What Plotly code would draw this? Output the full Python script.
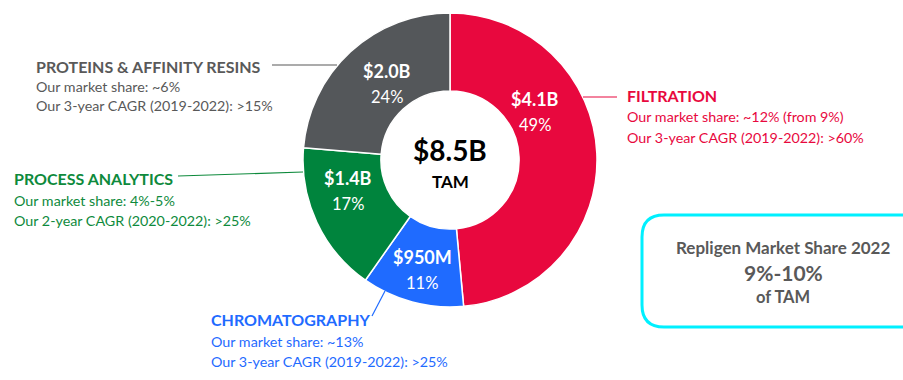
import plotly.graph_objects as go

# ---------------- data ----------------
segments = ["FILTRATION", "CHROMATOGRAPHY", "PROCESS ANALYTICS", "PROTEINS & AFFINITY RESINS"]
market_size_b = [4.1, 0.95, 1.4, 2.0]
size_labels = ["$4.1B", "$950M", "$1.4B", "$2.0B"]
share_pct = [49, 11, 17, 24]
market_share_lines = [
    "Our market share: ~12% (from 9%)",
    "Our market share: ~13%",
    "Our market share: 4%-5%",
    "Our market share: ~6%",
]
cagr_lines = [
    "Our 3-year CAGR (2019-2022): >60%",
    "Our 3-year CAGR (2019-2022): >25%",
    "Our 2-year CAGR (2020-2022): >25%",
    "Our 3-year CAGR (2019-2022): >15%",
]
total_label = "$8.5B"
total_sub = "TAM"
box_title = "Repligen Market Share 2022"
box_value = "9%-10%"
box_sub = "of TAM"

# ---------------- styles / layout ----------------
W, H = 903, 380
FONT = "Lato, 'Open Sans', sans-serif"
slice_colors = ["#E8083E", "#1F6BFF", "#00843D", "#54575A"]
text_colors = ["#E8083E", "#1F6BFF", "#0E8A3C", "#595959"]
grey = "#595959"

# slice label centres (px) for value line; percent line below
slice_label_pos = [(535, 99), (422, 257), (348, 178), (387, 71)]
# category title positions (px, left anchored)
title_pos = [(625, 95), (209, 319), (12, 178), (34, 66)]
sub_offsets = [(22, 42), (22, 42), (22, 42), (21, 40)]
leader_lines = [
    ((583, 97), (617, 97)),
    ((385, 291), (372, 316)),
    ((178, 176), (303, 172)),
    ((272, 65), (337, 65)),
]


def px(x):
    return x / W


def py(y):
    return 1 - y / H


fig = go.Figure()
fig.add_trace(go.Pie(
    labels=segments,
    values=market_size_b,
    sort=False,
    direction="clockwise",
    rotation=0,
    hole=0.47,
    marker=dict(colors=slice_colors, line=dict(color="white", width=1.5)),
    textinfo="none",
    hoverinfo="skip",
    showlegend=False,
    domain=dict(x=[px(303), px(597)], y=[py(307), py(13)]),
))

annotations = []
shapes = []

for i in range(len(segments)):
    sx, sy = slice_label_pos[i]
    annotations.append(dict(x=px(sx), y=py(sy), text=f"<b>{size_labels[i]}</b>",
                            font=dict(family=FONT, size=18, color="white"),
                            showarrow=False, xanchor="center", yanchor="middle"))
    annotations.append(dict(x=px(sx), y=py(sy + 26), text=f"{share_pct[i]}%",
                            font=dict(family=FONT, size=16.5, color="white"),
                            showarrow=False, xanchor="center", yanchor="middle"))
    tx, ty = title_pos[i]
    annotations.append(dict(x=px(tx), y=py(ty), text=f"<b>{segments[i]}</b>",
                            font=dict(family=FONT, size=16, color=text_colors[i]),
                            showarrow=False, xanchor="left", yanchor="middle"))
    o1, o2 = sub_offsets[i]
    annotations.append(dict(x=px(tx), y=py(ty + o1), text=market_share_lines[i],
                            font=dict(family=FONT, size=14.3, color=text_colors[i]),
                            showarrow=False, xanchor="left", yanchor="middle"))
    annotations.append(dict(x=px(tx), y=py(ty + o2), text=cagr_lines[i],
                            font=dict(family=FONT, size=14.3, color=text_colors[i]),
                            showarrow=False, xanchor="left", yanchor="middle"))
    (x0, y0), (x1, y1) = leader_lines[i]
    shapes.append(dict(type="line", xref="paper", yref="paper",
                       x0=px(x0), y0=py(y0), x1=px(x1), y1=py(y1),
                       line=dict(color=text_colors[i], width=1.2)))

# centre text
annotations.append(dict(x=px(450), y=py(150), text=f"<b>{total_label}</b>",
                        font=dict(family=FONT, size=28, color="black"),
                        showarrow=False, xanchor="center", yanchor="middle"))
annotations.append(dict(x=px(450), y=py(182), text=f"<b>{total_sub}</b>",
                        font=dict(family=FONT, size=17, color="black"),
                        showarrow=False, xanchor="center", yanchor="middle"))

# market share box
bl, bt, br, bb, r = 642, 215, 925, 327, 22
path = (f"M {px(bl + r)},{py(bt)} L {px(br)},{py(bt)} L {px(br)},{py(bb)} "
        f"L {px(bl + r)},{py(bb)} Q {px(bl)},{py(bb)} {px(bl)},{py(bb - r)} "
        f"L {px(bl)},{py(bt + r)} Q {px(bl)},{py(bt)} {px(bl + r)},{py(bt)} Z")
shapes.append(dict(type="path", xref="paper", yref="paper", path=path,
                   line=dict(color="#00F0FF", width=3)))
annotations.append(dict(x=px(783), y=py(247), text=f"<b>{box_title}</b>",
                        font=dict(family=FONT, size=17, color=grey),
                        showarrow=False, xanchor="center", yanchor="middle"))
annotations.append(dict(x=px(783), y=py(272), text=f"<b>{box_value}</b>",
                        font=dict(family=FONT, size=21, color=grey),
                        showarrow=False, xanchor="center", yanchor="middle"))
annotations.append(dict(x=px(783), y=py(297), text=f"<b>{box_sub}</b>",
                        font=dict(family=FONT, size=16.5, color=grey),
                        showarrow=False, xanchor="center", yanchor="middle"))

fig.update_layout(
    width=W, height=H,
    margin=dict(l=0, r=0, t=0, b=0),
    paper_bgcolor="white",
    plot_bgcolor="white",
    annotations=annotations,
    shapes=shapes,
)

fig.write_html("out.html",
               config={"displayModeBar": False},
               post_script="document.body.style.margin='0';document.body.style.overflow='hidden';")
